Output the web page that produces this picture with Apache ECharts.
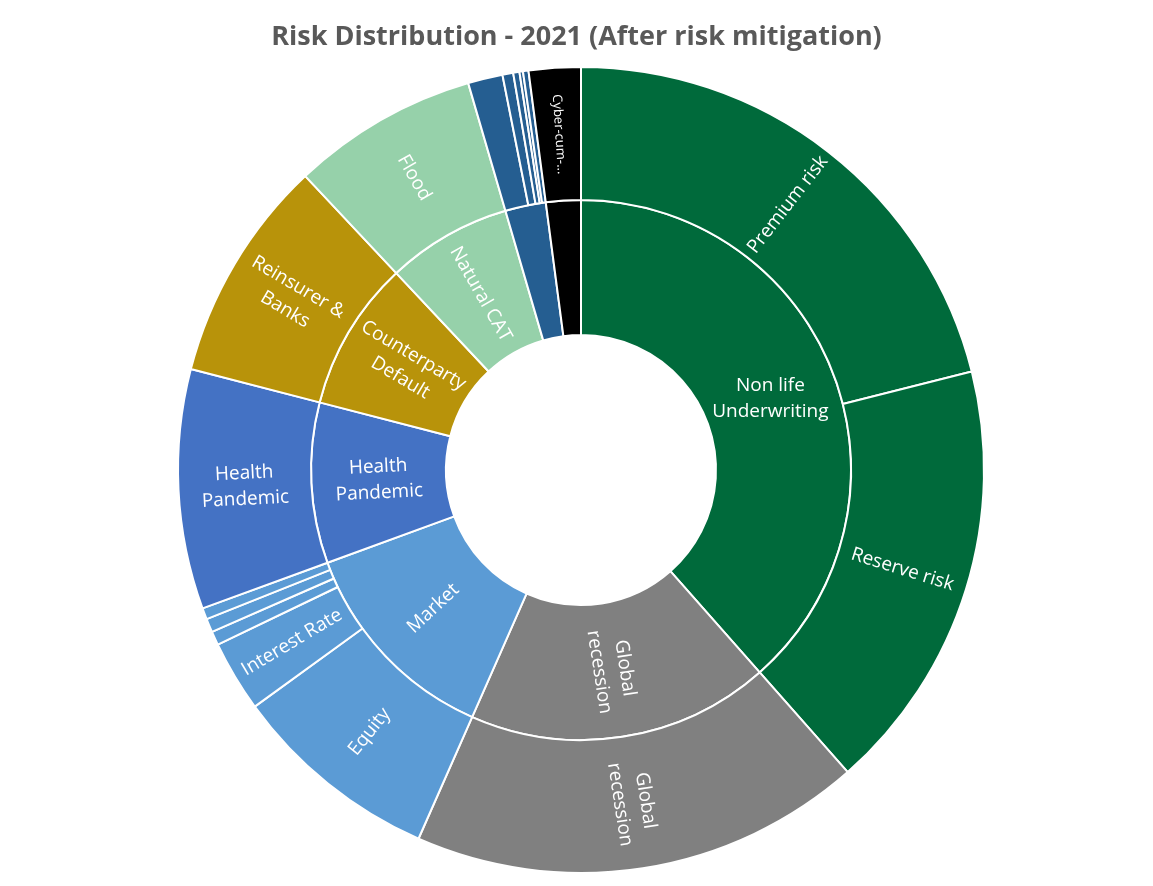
<!DOCTYPE html>
<html>
<head>
<meta charset="utf-8">
<script src="https://cdn.jsdelivr.net/npm/echarts@6/dist/echarts.min.js"></script>
<style>html,body{margin:0;padding:0;background:#fff;}#chart{width:1153px;height:886px;}</style>
</head>
<body>
<div id="chart"></div>
<script>
// Inner ring: risk categories (share of total, %)
const categories = ['Non life\nUnderwriting', 'Global\nrecession', 'Market', 'Health\nPandemic', 'Counterparty\nDefault', 'Natural CAT', 'Other risks', 'Cyber'];
const categoryColors = ['#006A3B', '#808080', '#5B9BD5', '#4472C4', '#B8930A', '#96D1AA', '#255E91', '#000000'];
const categoryShowLabel = [true, true, true, true, true, true, false, false];
// Outer ring: sub-risks per category (share of total, %)
const subNames = [
  ['Premium risk', 'Reserve risk'],
  ['Global\nrecession'],
  ['Equity', 'Interest Rate', 'Spread', 'Currency', 'Property'],
  ['Health\nPandemic'],
  ['Reinsurer &\nBanks'],
  ['Flood'],
  ['Other 1', 'Other 2', 'Other 3', 'Other 4', 'Other 5'],
  ['Cyber-cum-...']
];
const subValues = [
  [21.05, 17.4],
  [18.1],
  [8.4, 2.85, 0.55, 0.55, 0.45],
  [9.6],
  [8.97],
  [7.47],
  [1.39, 0.43, 0.25, 0.14, 0.22],
  [2.08]
];
const subShowLabel = [
  [true, true], [true], [true, true, false, false, false], [true], [true], [true],
  [false, false, false, false, false], [true]
];

const data = categories.map((name, i) => ({
  name: name,
  itemStyle: { color: categoryColors[i] },
  label: { show: categoryShowLabel[i] },
  children: subNames[i].map((sn, j) => ({
    name: sn,
    value: subValues[i][j],
    itemStyle: { color: categoryColors[i] },
    label: sn === 'Cyber-cum-...' ? { show: true, fontSize: 13 } : { show: subShowLabel[i][j] }
  }))
}));
// Non life Underwriting label is horizontal in the reference
data[0].label.rotate = 0;

const chart = echarts.init(document.getElementById('chart'));
chart.setOption({
  animation: false,
  title: {
    text: 'Risk Distribution - 2021 (After risk mitigation)',
    left: 'center',
    top: 19,
    textStyle: { fontFamily: 'Open Sans', fontSize: 27, fontWeight: 'bold', color: '#595959' }
  },
  series: [{
    type: 'sunburst',
    center: [581, 470],
    radius: [135, 403],
    sort: null,
    startAngle: 90,
    clockwise: true,
    nodeClick: false,
    data: data,
    itemStyle: { borderColor: '#ffffff', borderWidth: 2 },
    label: { color: '#ffffff', fontFamily: 'Open Sans', fontSize: 19, rotate: 'radial', align: 'center', lineHeight: 26 },
    levels: [
      {},
      { r0: 135, r: 270 },
      { r0: 270, r: 403 }
    ]
  }]
});
</script>
</body>
</html>
